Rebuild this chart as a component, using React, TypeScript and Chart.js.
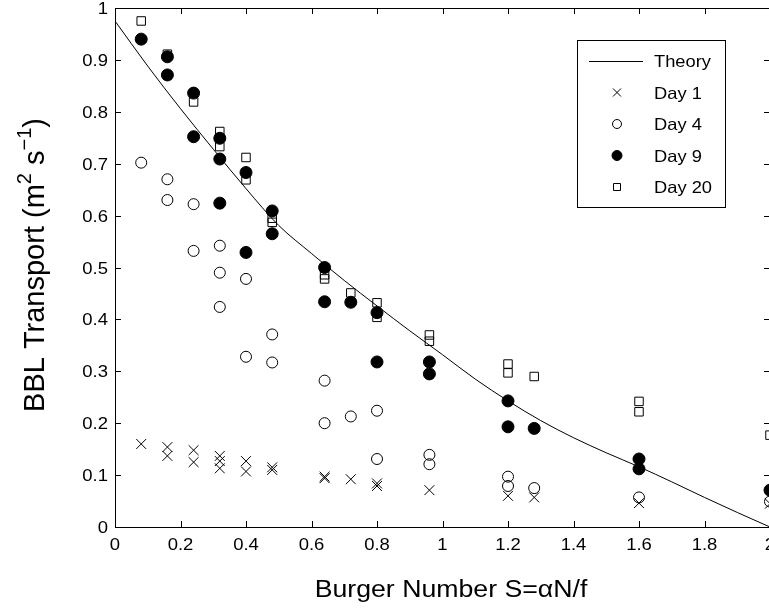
import React, { useEffect, useRef } from "react";
import { Chart, registerables } from "chart.js";

Chart.register(...registerables);

// ---------- data ----------
const X_TICKS = [0, 0.2, 0.4, 0.6, 0.8, 1, 1.2, 1.4, 1.6, 1.8, 2];
const Y_TICKS = [0, 0.1, 0.2, 0.3, 0.4, 0.5, 0.6, 0.7, 0.8, 0.9, 1];

const THEORY_X = [0, 0.1, 0.2, 0.3, 0.4, 0.5, 0.6, 0.7, 0.8, 0.9, 1.0, 1.1, 1.2, 1.3, 1.4, 1.5, 1.6, 1.7, 1.8, 1.9, 2.0];
const THEORY_Y = [0.975, 0.888, 0.806, 0.728, 0.652, 0.581, 0.527, 0.475, 0.426, 0.378, 0.332, 0.285, 0.243, 0.205, 0.172, 0.143, 0.116, 0.087, 0.057, 0.028, 0.0];

const DAY1_X = [0.08, 0.16, 0.16, 0.24, 0.24, 0.32, 0.32, 0.32, 0.40, 0.40, 0.48, 0.48, 0.64, 0.64, 0.72, 0.80, 0.80, 0.96, 1.20, 1.28, 1.60, 2.00];
const DAY1_Y = [0.160, 0.154, 0.137, 0.148, 0.125, 0.137, 0.127, 0.113, 0.127, 0.107, 0.115, 0.110, 0.097, 0.094, 0.092, 0.084, 0.079, 0.071, 0.060, 0.057, 0.046, 0.045];

const DAY4_X = [0.08, 0.16, 0.16, 0.24, 0.24, 0.32, 0.32, 0.32, 0.40, 0.40, 0.48, 0.48, 0.64, 0.64, 0.72, 0.80, 0.80, 0.96, 0.96, 1.20, 1.20, 1.28, 1.60, 2.00];
const DAY4_Y = [0.702, 0.670, 0.630, 0.622, 0.532, 0.542, 0.490, 0.424, 0.478, 0.328, 0.371, 0.317, 0.282, 0.200, 0.213, 0.224, 0.131, 0.139, 0.121, 0.097, 0.079, 0.075, 0.057, 0.049];

const DAY9_X = [0.08, 0.16, 0.16, 0.24, 0.24, 0.32, 0.32, 0.32, 0.40, 0.40, 0.48, 0.48, 0.64, 0.64, 0.72, 0.80, 0.80, 0.96, 0.96, 1.20, 1.20, 1.28, 1.60, 1.60, 2.00];
const DAY9_Y = [0.940, 0.906, 0.871, 0.836, 0.752, 0.749, 0.709, 0.624, 0.683, 0.529, 0.609, 0.565, 0.500, 0.434, 0.433, 0.413, 0.318, 0.318, 0.295, 0.243, 0.193, 0.190, 0.131, 0.112, 0.071];

const DAY20_X = [0.08, 0.16, 0.24, 0.32, 0.32, 0.40, 0.40, 0.48, 0.48, 0.64, 0.64, 0.72, 0.80, 0.80, 0.96, 0.96, 1.20, 1.20, 1.28, 1.60, 1.60, 2.00];
const DAY20_Y = [0.975, 0.911, 0.819, 0.762, 0.733, 0.712, 0.669, 0.595, 0.587, 0.486, 0.478, 0.451, 0.432, 0.404, 0.370, 0.358, 0.314, 0.297, 0.290, 0.242, 0.222, 0.177];

const SERIES_LABELS = ["Theory", "Day 1", "Day 4", "Day 9", "Day 20"];
const X_TITLE = "Burger Number S=\u03B1N/f";

const FONT = "'Liberation Sans', Arial, Helvetica, sans-serif";
const SX = 1.12; // horizontal stretch of glyphs seen in the reference

const pts = (xs: number[], ys: number[]) => xs.map((x, i) => ({ x, y: ys[i] }));
const fmt = (v: number) => String(Number(v.toFixed(1)));

function sText(ctx: CanvasRenderingContext2D, text: string, x: number, y: number, align: CanvasTextAlign, base: CanvasTextBaseline, sx = SX) {
  ctx.save();
  ctx.translate(x, y);
  ctx.scale(sx, 1);
  ctx.textAlign = align;
  ctx.textBaseline = base;
  ctx.fillText(text, 0, 0);
  ctx.restore();
}

// ---------- plugins ----------
const matlabPlugin = {
  id: "matlabAxes",
  afterDatasetsDraw(chart: any) {
    const { ctx, chartArea: a, scales } = chart;
    const xs = scales.x;
    const ys = scales.y;
    ctx.save();
    ctx.strokeStyle = "#000";
    ctx.lineWidth = 1;
    ctx.strokeRect(Math.round(a.left) + 0.5, Math.round(a.top) + 0.5, Math.round(a.right - a.left), Math.round(a.bottom - a.top));
    const tl = 6;
    ctx.beginPath();
    X_TICKS.forEach((v) => {
      const px = Math.round(xs.getPixelForValue(v)) + 0.5;
      ctx.moveTo(px, a.bottom);
      ctx.lineTo(px, a.bottom - tl);
      ctx.moveTo(px, a.top);
      ctx.lineTo(px, a.top + tl);
    });
    Y_TICKS.forEach((v) => {
      const py = Math.round(ys.getPixelForValue(v)) + 0.5;
      ctx.moveTo(a.left, py);
      ctx.lineTo(a.left + tl, py);
      ctx.moveTo(a.right, py);
      ctx.lineTo(a.right - tl, py);
    });
    ctx.stroke();

    // tick labels
    ctx.fillStyle = "#000";
    ctx.font = `16.5px ${FONT}`;
    X_TICKS.forEach((v) => {
      sText(ctx, fmt(v), xs.getPixelForValue(v), 550, "center", "alphabetic");
    });
    Y_TICKS.forEach((v) => {
      sText(ctx, fmt(v), 108, ys.getPixelForValue(v) + 6, "right", "alphabetic");
    });

    // x title
    ctx.font = `23px ${FONT}`;
    sText(ctx, X_TITLE, 451, 597, "center", "alphabetic", 1.16);

    // y title with superscripts
    const size = 29;
    const sup = 20;
    const parts = [
      { t: "BBL Transport (m", s: false },
      { t: "2", s: true },
      { t: " s", s: false },
      { t: "\u22121", s: true },
      { t: ")", s: false },
    ];
    let w = 0;
    parts.forEach((p) => {
      ctx.font = `${p.s ? sup : size}px ${FONT}`;
      w += ctx.measureText(p.t).width;
    });
    ctx.save();
    ctx.translate(44, 265);
    ctx.rotate(-Math.PI / 2);
    ctx.textAlign = "left";
    ctx.textBaseline = "alphabetic";
    let cx = -w / 2;
    parts.forEach((p) => {
      ctx.font = `${p.s ? sup : size}px ${FONT}`;
      ctx.fillText(p.t, cx, p.s ? -13 : 0);
      cx += ctx.measureText(p.t).width;
    });
    ctx.restore();
    ctx.restore();

    // legend
    ctx.save();
    const L = { left: 577, top: 40, right: 725, bottom: 207 };
    ctx.fillStyle = "#fff";
    ctx.fillRect(L.left, L.top, L.right - L.left, L.bottom - L.top);
    ctx.strokeStyle = "#000";
    ctx.lineWidth = 1;
    ctx.strokeRect(L.left + 0.5, L.top + 0.5, L.right - L.left, L.bottom - L.top);
    const rowsY = [61, 92.5, 124, 155.5, 187];
    ctx.font = `16.5px ${FONT}`;
    chart.data.datasets.forEach((ds: any, i: number) => {
      const y = rowsY[i];
      ctx.lineWidth = 1;
      ctx.strokeStyle = "#000";
      if (ds.type === "line") {
        ctx.beginPath();
        ctx.moveTo(589, Math.round(y) + 0.5);
        ctx.lineTo(643, Math.round(y) + 0.5);
        ctx.stroke();
      } else {
        ctx.fillStyle = ds.backgroundColor;
        ctx.beginPath();
        if (ds.pointStyle === "crossRot") {
          ctx.moveTo(617 - 4, y - 4);
          ctx.lineTo(617 + 4, y + 4);
          ctx.moveTo(617 - 4, y + 4);
          ctx.lineTo(617 + 4, y - 4);
          ctx.stroke();
        } else if (ds.pointStyle === "circle") {
          ctx.arc(617, y, i === 3 ? 5 : 4.5, 0, Math.PI * 2);
          ctx.fill();
          ctx.stroke();
        } else {
          ctx.rect(613.5, y - 3.5, 7, 7);
          ctx.fill();
          ctx.stroke();
        }
      }
      ctx.fillStyle = "#000";
      sText(ctx, ds.label, 654, y + 6, "left", "alphabetic", 1.11);
    });
    ctx.restore();
  },
};

export default function App() {
  const ref = useRef<HTMLCanvasElement | null>(null);

  useEffect(() => {
    if (!ref.current) return;
    const chart = new Chart(ref.current, {
      type: "scatter",
      data: {
        datasets: [
          {
            type: "line",
            label: SERIES_LABELS[0],
            data: pts(THEORY_X, THEORY_Y),
            borderColor: "#000",
            borderWidth: 1,
            pointRadius: 0,
            fill: false,
            cubicInterpolationMode: "monotone",
            order: 5,
          } as any,
          {
            label: SERIES_LABELS[1],
            data: pts(DAY1_X, DAY1_Y),
            pointStyle: "crossRot",
            pointRadius: 7,
            borderColor: "#000",
            backgroundColor: "#fff",
            pointBorderWidth: 1,
            clip: false,
            order: 4,
          } as any,
          {
            label: SERIES_LABELS[2],
            data: pts(DAY4_X, DAY4_Y),
            pointStyle: "circle",
            pointRadius: 5.5,
            borderColor: "#000",
            backgroundColor: "rgba(0,0,0,0)",
            pointBorderWidth: 1,
            clip: false,
            order: 3,
          } as any,
          {
            label: SERIES_LABELS[3],
            data: pts(DAY9_X, DAY9_Y),
            pointStyle: "circle",
            pointRadius: 6,
            borderColor: "#000",
            backgroundColor: "#000",
            pointBorderWidth: 1,
            clip: false,
            order: 1,
          } as any,
          {
            label: SERIES_LABELS[4],
            data: pts(DAY20_X, DAY20_Y),
            pointStyle: "rect",
            pointRadius: 6,
            borderColor: "#000",
            backgroundColor: "rgba(255,255,255,0)",
            pointBorderWidth: 1,
            clip: false,
            order: 2,
          } as any,
        ],
      },
      options: {
        responsive: false,
        animation: false,
        events: [],
        layout: { padding: { left: 0, top: 7, right: 10, bottom: 0 } },
        plugins: {
          legend: { display: false },
          tooltip: { enabled: false },
          title: { display: false },
        },
        scales: {
          x: {
            type: "linear",
            min: 0,
            max: 2,
            grid: { display: false, drawTicks: false },
            border: { display: false },
            afterBuildTicks: (s: any) => {
              s.ticks = X_TICKS.map((v) => ({ value: v }));
            },
            afterFit: (s: any) => {
              s.height = 83;
              s.paddingLeft = 0;
              s.paddingRight = 0;
            },
            ticks: { display: false },
          },
          y: {
            type: "linear",
            min: 0,
            max: 1,
            grid: { display: false, drawTicks: false },
            border: { display: false },
            afterBuildTicks: (s: any) => {
              s.ticks = Y_TICKS.map((v) => ({ value: v }));
            },
            afterFit: (s: any) => {
              s.width = 115;
              s.paddingTop = 0;
              s.paddingBottom = 0;
            },
            ticks: { display: false },
          },
        },
      },
      plugins: [matlabPlugin],
    });
    return () => chart.destroy();
  }, []);

  return (
    <div
      style={{
        position: "fixed",
        left: 0,
        top: 0,
        width: 769,
        height: 610,
        overflow: "hidden",
        background: "#fff",
      }}
    >
      <canvas ref={ref} width={780} height={610} style={{ width: 780, height: 610, display: "block" }} />
    </div>
  );
}
